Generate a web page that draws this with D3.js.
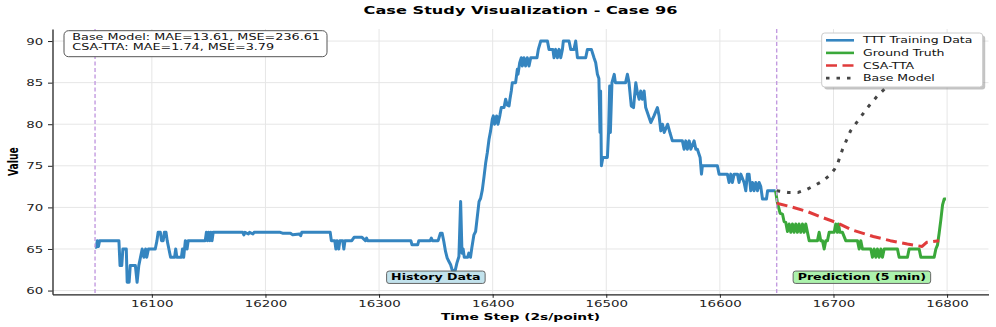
<!DOCTYPE html>
<html>
<head>
<meta charset="utf-8">
<script src="https://cdn.jsdelivr.net/npm/d3@7"></script>
<style>
body { margin: 0; background: #fff; }
text { font-family: "DejaVu Sans", sans-serif; }
</style>
</head>
<body>
<svg id="chart" width="996" height="327"></svg>
<script>
// history window fed to TTT (time step, value)
const history = [[16050,65.2],[16051,65.2],[16052,66],[16053,65.3],[16054,66],[16071,66],[16072,63],[16073.5,63],[16074.5,65],[16077.5,65],[16078.3,61],[16080,61],[16081,63],[16085.5,63],[16087,61],[16088.5,63],[16090,64],[16091.5,65],[16093,64],[16094.5,65],[16095.5,64],[16097,65],[16103,65],[16104.5,66],[16105.5,67],[16107.5,67],[16108.5,66],[16110,66],[16111,67],[16112.5,67],[16113.5,66],[16115,65],[16116.5,64],[16120,64],[16121,65],[16122,64],[16126,64],[16127,65],[16128,64],[16129.5,66],[16131,65],[16132,66],[16147,66],[16148,67],[16149,66],[16150,67],[16151,66],[16152,67],[16153,66],[16154,67],[16180,67],[16181,66.7],[16182,67],[16185,66.8],[16186,67],[16189,66.8],[16190,67],[16213,67],[16215,66.9],[16222,66.9],[16224,66.7],[16230,66.8],[16231,66.6],[16232,67],[16257,67],[16258,66],[16261,66],[16262,65],[16263,66],[16264.5,65],[16265.5,66],[16268,66],[16269,65],[16270,66],[16276,66],[16278,66.4],[16285,66.4],[16288,66],[16289,66.3],[16290,66],[16328,66],[16329,65.5],[16334,65.5],[16335,66],[16345,66],[16346,66.3],[16347,66],[16352,66],[16354,66.9],[16355.5,66.9],[16357,65.9],[16358.5,64.7],[16360,63.9],[16361.5,63.5],[16363,63.1],[16364.5,62.4],[16367,62.4],[16368.5,63.3],[16370.3,64.1],[16371.8,70.7],[16373,64.5],[16374,65],[16375,64],[16378,64],[16379,64.5],[16380.5,64],[16381.5,65],[16383.5,66.7],[16385,67.1],[16388,70.7],[16389.4,71.1],[16390.9,72.1],[16392.4,73.7],[16393.8,75.3],[16395.3,76.6],[16396.8,78.2],[16398.2,79.2],[16399.7,80.6],[16400.6,81],[16401.7,80],[16403.5,81],[16404.7,80],[16406.4,81.1],[16407.6,82],[16410,82],[16411.4,83],[16412.9,82.3],[16414.4,82.2],[16415.2,83],[16416.4,84],[16417.3,85],[16420.2,85],[16421.7,86.6],[16422.3,86],[16423.8,87.4],[16425.2,88],[16426.1,87],[16427.6,88],[16429,87],[16430.5,88],[16432,87],[16433.5,88],[16439,88],[16440.2,89],[16442.3,90],[16448.2,90],[16449.6,89],[16453,89],[16454,88],[16455.5,89],[16457,88],[16458.5,89],[16459.9,88],[16461.4,89],[16462.2,90],[16467.2,90],[16468.7,89],[16471.6,89],[16473.1,90],[16474.6,88],[16481.9,88],[16483.4,89],[16486.9,89],[16489.2,88],[16490.7,87.4],[16492.2,86],[16493.5,85.5],[16494.5,79],[16495,84],[16495.7,75],[16497,76],[16501,76],[16502,79],[16503,84.6],[16503.6,79],[16505,85],[16507,86],[16508,85],[16517,85],[16518.6,86],[16520,85],[16522,82.2],[16524,82],[16526,85],[16527.4,83.8],[16529,83],[16530.3,84],[16531.8,83],[16533.3,84],[16534.7,82],[16537.7,80.8],[16539.2,80.2],[16542,81],[16545,82],[16546.5,81],[16548,79.2],[16549.5,80],[16551,79],[16554,80],[16556,79],[16558.2,78],[16567,78],[16568.5,77],[16570,78],[16571.4,77],[16573,78],[16574.4,77],[16577.3,78],[16578.8,77],[16580.2,77],[16582.6,76],[16583.8,74],[16584.6,75],[16597.8,75],[16599.3,74],[16606.6,74],[16608.1,73],[16609.6,74],[16611,73],[16612.5,74],[16615.5,74],[16616.9,73],[16618.4,74],[16621.3,73],[16622.8,72],[16624.2,74],[16625.7,74],[16627.2,72],[16628.7,73],[16630.1,72],[16631.6,73],[16633.1,72],[16634.5,73],[16636,72.5],[16637.5,71],[16641,71],[16642,72],[16649,72]];

// prediction window
const groundTruth = [[16649,72],[16650.7,70.5],[16653,69.3],[16655.1,69.2],[16656.5,68.3],[16658,68.2],[16659.5,67.1],[16661,68],[16662.4,67],[16663.9,68],[16665.3,67],[16666.8,68],[16668.3,67],[16669.7,68],[16671.2,67],[16672.7,68],[16674.2,67],[16675.6,68],[16677.1,67],[16678.6,66],[16685.9,66],[16687.4,67],[16688.8,66],[16690.3,66],[16691.8,65],[16693.2,66],[16694.7,66],[16696.2,67],[16700.6,67],[16702,68],[16703.5,67],[16704.4,68],[16705.6,67],[16707.9,67],[16710.8,66],[16721.1,66],[16722.6,65],[16724,66],[16725.5,65],[16732.9,65],[16734.3,64],[16735.8,65],[16737.3,64],[16738.7,65],[16740.2,64],[16741.7,65],[16743.1,64],[16744.6,65],[16756.3,65],[16757.8,64],[16765.1,64],[16766.6,65],[16775.4,65],[16776.9,64],[16788.6,64],[16790.1,65],[16791.6,65.5],[16793,66.9],[16794.5,68.5],[16796,70.3],[16797.4,71],[16799,71]];
const csaTTA = [[16650,70.5],[16662,70.1],[16677,69.5],[16690,68.8],[16704,68.1],[16716,67.3],[16735,66.5],[16750,66.0],[16765,65.6],[16778,65.3],[16782,65.8],[16793,66.0]];
const baseModel = [[16650,72],[16660,71.8],[16669,71.8],[16677,72.2],[16683,72.6],[16691,73.2],[16697,73.9],[16701,74.6],[16704,75.4],[16708,77.0],[16715,79.2],[16722.5,80.6],[16730,82.0],[16738,83.3],[16746,84.4],[16760,86.0],[16775,87.3],[16799,88.5]];

const xTicks = [16100, 16200, 16300, 16400, 16500, 16600, 16700, 16800];
const yTicks = [60, 65, 70, 75, 80, 85, 90];
const splitSteps = [16050, 16650];
const metricLines = ["Base Model: MAE=13.61, MSE=236.61", "CSA-TTA: MAE=1.74, MSE=3.79"];
const regionLabels = [
    {text: "History Data", t: 16350, v: 61.6, fill: "#add8e6"},
    {text: "Prediction (5 min)", t: 16725, v: 61.6, fill: "#90ee90"}
];
const seriesNames = ["TTT Training Data", "Ground Truth", "CSA-TTA", "Base Model"];

const W = 996, H = 327;
const margin = {top: 29, right: 7.5, bottom: 32.7, left: 52.5};
const SX = 1.47; // picture is stretched sideways, text too

const svg = d3.select("#chart");

const series = [
    {name: seriesNames[0], data: history, color: "#3585c0", dash: null},
    {name: seriesNames[1], data: groundTruth, color: "#3aa83a", dash: null},
    {name: seriesNames[2], data: csaTTA, color: "#e03b3b", dash: "11,5.5"},
    {name: seriesNames[3], data: baseModel, color: "#454545", dash: "3.5,7"}
];

const allPts = series.flatMap(s => s.data);
const [t0, t1] = d3.extent(allPts, d => d[0]);
const [v0, v1] = d3.extent(allPts, d => d[1]);
const padT = (t1 - t0) * 0.05, padV = (v1 - v0) * 0.05;

const x = d3.scaleLinear().domain([t0 - padT, t1 + padT]).range([margin.left, W - margin.right]);
const y = d3.scaleLinear().domain([v0 - padV, v1 + padV]).range([H - margin.bottom, margin.top]);

const plotL = margin.left, plotR = W - margin.right, plotT = margin.top, plotB = H - margin.bottom;

function stretched(sel, px, py) {
    return sel.attr("transform", `translate(${px},${py}) scale(${SX},1)`);
}

// grid
svg.append("g")
    .selectAll("line")
    .data(xTicks)
    .join("line")
    .attr("x1", d => x(d)).attr("x2", d => x(d))
    .attr("y1", plotT).attr("y2", plotB)
    .attr("stroke", "#e6e6e6").attr("stroke-width", 1);
svg.append("g")
    .selectAll("line")
    .data(yTicks)
    .join("line")
    .attr("x1", plotL).attr("x2", plotR)
    .attr("y1", d => y(d)).attr("y2", d => y(d))
    .attr("stroke", "#e6e6e6").attr("stroke-width", 1);

// series
const line = d3.line().x(d => x(d[0])).y(d => y(d[1]));
svg.append("g")
    .selectAll("path")
    .data(series)
    .join("path")
    .attr("d", d => line(d.data))
    .attr("fill", "none")
    .attr("stroke", d => d.color)
    .attr("stroke-width", 3)
    .attr("stroke-linejoin", "round")
    .attr("stroke-dasharray", d => d.dash);

// split markers
svg.append("g")
    .selectAll("line")
    .data(splitSteps)
    .join("line")
    .attr("x1", d => x(d)).attr("x2", d => x(d))
    .attr("y1", plotT).attr("y2", plotB)
    .attr("stroke", "#c39be0")
    .attr("stroke-width", 1.4)
    .attr("stroke-dasharray", "4,2.5");

// axes
svg.append("g")
    .attr("transform", `translate(0,${plotB})`)
    .call(d3.axisBottom(x).tickValues(xTicks).tickSize(3.5).tickSizeOuter(0).tickFormat(d3.format("d")))
    .attr("font-family", "DejaVu Sans").attr("font-size", 9.1)
    .call(g => g.select(".domain").attr("stroke", "#222").attr("stroke-width", 1.3))
    .call(g => g.selectAll(".tick line").attr("stroke", "#222").attr("stroke-width", 1))
    .call(g => g.selectAll(".tick text").attr("y", 13).attr("dy", null).attr("fill", "#222")
        .attr("transform", `scale(${SX},1)`));

svg.append("g")
    .attr("transform", `translate(${plotL},0)`)
    .call(d3.axisLeft(y).tickValues(yTicks).tickSize(4.5).tickSizeOuter(0))
    .attr("font-family", "DejaVu Sans").attr("font-size", 9.1)
    .call(g => g.select(".domain").attr("stroke", "#222").attr("stroke-width", 1.3))
    .call(g => g.selectAll(".tick line").attr("stroke", "#222").attr("stroke-width", 1))
    .call(g => g.selectAll(".tick text").attr("x", -9.2 / SX).attr("dy", "0.34em").attr("fill", "#222")
        .attr("transform", `scale(${SX},1)`));

// titles
stretched(svg.append("text"), (plotL + plotR) / 2, 14)
    .attr("text-anchor", "middle").attr("font-weight", "bold").attr("font-size", 11)
    .text("Case Study Visualization - Case 96");
stretched(svg.append("text"), (plotL + plotR) / 2, 320)
    .attr("text-anchor", "middle").attr("font-weight", "bold").attr("font-size", 9.4)
    .text("Time Step (2s/point)");
svg.append("text")
    .attr("transform", `translate(17.5,${(plotT + plotB) / 2}) scale(${SX},1) rotate(-90)`)
    .attr("text-anchor", "middle").attr("font-weight", "bold").attr("font-size", 9.2)
    .text("Value");

// region labels
regionLabels.forEach(r => {
    const g = svg.append("g");
    const txt = stretched(g.append("text"), x(r.t), y(r.v) + 3.1)
        .attr("text-anchor", "middle").attr("font-weight", "bold").attr("font-size", 8.6)
        .text(r.text);
    const w = txt.node().getComputedTextLength() * SX;
    g.insert("rect", "text")
        .attr("x", x(r.t) - w / 2 - 4.5).attr("y", y(r.v) - 6.2)
        .attr("width", w + 9).attr("height", 12.4)
        .attr("rx", 2.5)
        .attr("fill", r.fill).attr("fill-opacity", 0.75)
        .attr("stroke", "#666").attr("stroke-width", 1);
});

// metrics box
svg.append("rect")
    .attr("x", 64).attr("y", 30.7).attr("width", 263).attr("height", 26)
    .attr("rx", 4.5)
    .attr("fill", "#fff").attr("stroke", "#555").attr("stroke-width", 1);
metricLines.forEach((s, i) => {
    stretched(svg.append("text"), 72.3, 40 + i * 10)
        .attr("font-size", 8.7).attr("fill", "#111")
        .text(s);
});

// legend
const lg = svg.append("g").attr("transform", "translate(821.7,33)");
lg.append("rect").attr("x", 2.5).attr("y", 2.5).attr("width", 161).attr("height", 54)
    .attr("rx", 3).attr("fill", "#888").attr("fill-opacity", 0.5);
lg.append("rect").attr("width", 161).attr("height", 54)
    .attr("rx", 3).attr("fill", "#fff").attr("stroke", "#cccccc").attr("stroke-width", 1);
series.forEach((s, i) => {
    const cy = 7.3 + i * 12.6;
    lg.append("line")
        .attr("x1", 4.3).attr("x2", 32.3).attr("y1", cy).attr("y2", cy)
        .attr("stroke", s.color).attr("stroke-width", 2.6)
        .attr("stroke-dasharray", s.dash);
    stretched(lg.append("text"), 41.3, cy + 3.1)
        .attr("font-size", 8.5).attr("fill", "#111")
        .text(s.name);
});
</script>
</body>
</html>
